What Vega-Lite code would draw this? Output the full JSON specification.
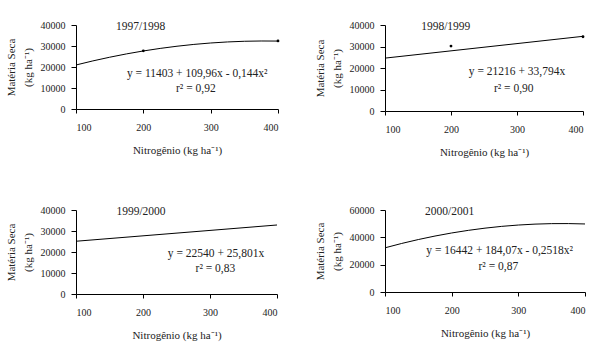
{
  "$schema": "https://vega.github.io/schema/vega-lite/v6.json",
  "padding": {"left": 5, "top": 20, "right": 5, "bottom": 5},
  "columns": 2,
  "align": "none",
  "bounds": "flush",
  "spacing": {"row": 99, "column": 107},
  "datasets": {
    "curves": [
      {"panel": "A", "x": 100, "y": 20959}, {"panel": "A", "x": 125, "y": 22898}, {"panel": "A", "x": 150, "y": 24657},
      {"panel": "A", "x": 175, "y": 26236}, {"panel": "A", "x": 200, "y": 27635}, {"panel": "A", "x": 225, "y": 28854},
      {"panel": "A", "x": 250, "y": 29893}, {"panel": "A", "x": 275, "y": 30752}, {"panel": "A", "x": 300, "y": 31431},
      {"panel": "A", "x": 325, "y": 31930}, {"panel": "A", "x": 350, "y": 32249}, {"panel": "A", "x": 375, "y": 32388},
      {"panel": "A", "x": 400, "y": 32347},
      {"panel": "B", "x": 100, "y": 24595}, {"panel": "B", "x": 400, "y": 34734},
      {"panel": "C", "x": 100, "y": 25120}, {"panel": "C", "x": 400, "y": 32860},
      {"panel": "D", "x": 100, "y": 32331}, {"panel": "D", "x": 125, "y": 35516}, {"panel": "D", "x": 150, "y": 38387},
      {"panel": "D", "x": 175, "y": 40943}, {"panel": "D", "x": 200, "y": 43184}, {"panel": "D", "x": 225, "y": 45110},
      {"panel": "D", "x": 250, "y": 46722}, {"panel": "D", "x": 275, "y": 48019}, {"panel": "D", "x": 300, "y": 49001},
      {"panel": "D", "x": 325, "y": 49668}, {"panel": "D", "x": 350, "y": 50021}, {"panel": "D", "x": 375, "y": 50059},
      {"panel": "D", "x": 400, "y": 49782}
    ],
    "points": [
      {"panel": "A", "x": 200, "y": 27700}, {"panel": "A", "x": 400, "y": 32400},
      {"panel": "B", "x": 200, "y": 30200}, {"panel": "B", "x": 400, "y": 34540}
    ]
  },
  "config": {
    "view": {"stroke": null},
    "font": "Times New Roman, Liberation Serif, serif",
    "axis": {
      "grid": false, "domainColor": "#000", "tickColor": "#000", "labelOverlap": false,
      "labelFont": "Times New Roman, Liberation Serif, serif", "labelFontSize": 10, "labelColor": "#222",
      "titleFont": "Times New Roman, Liberation Serif, serif", "titleFontSize": 11, "titleFontWeight": "normal", "titleColor": "#222"
    },
    "axisX": {"tickSize": 4, "labelPadding": 9, "titlePadding": 12},
    "axisY": {"tickSize": 5, "labelPadding": 6, "titlePadding": 7, "titleLineHeight": 17},
    "text": {"font": "Times New Roman, Liberation Serif, serif", "fontSize": 11.5, "color": "#222"}
  },
  "concat": [
    {
      "width": 202, "height": 84,
      "encoding": {
        "x": {"field": "x", "type": "quantitative", "scale": {"domain": [100, 400], "nice": false, "zero": false}, "axis": {"values": [100, 200, 300, 400], "title": "Nitrogênio (kg ha⁻¹)"}},
        "y": {"field": "y", "type": "quantitative", "scale": {"domain": [0, 40000], "nice": false}, "axis": {"values": [0, 10000, 20000, 30000, 40000], "tickCount": 5, "labelOverlap": false, "format": "d", "title": ["Matéria Seca", "(kg ha⁻¹)"]}}
      },
      "layer": [
        {
          "data": {"name": "curves"}, "transform": [{"filter": "datum.panel == 'A'"}],
          "mark": {"type": "line", "color": "#000", "strokeWidth": 1}
        },
        {
          "data": {"name": "points"}, "transform": [{"filter": "datum.panel == 'A'"}],
          "mark": {"type": "circle", "size": 8, "color": "#000", "opacity": 1}
        },
        {
          "data": {"values": [{"label": "1997/1998", "x": 196, "y": 38900}, {"label": "y = 11403 + 109,96x - 0,144x²", "x": 280, "y": 16900}, {"label": "r² = 0,92", "x": 278, "y": 9570}]},
          "mark": {"type": "text"},
          "encoding": {"text": {"field": "label"}}
        }
      ]
    },
    {
      "width": 198, "height": 86,
      "encoding": {
        "x": {"field": "x", "type": "quantitative", "scale": {"domain": [100, 400], "nice": false, "zero": false}, "axis": {"values": [100, 200, 300, 400], "title": "Nitrogênio (kg ha⁻¹)"}},
        "y": {"field": "y", "type": "quantitative", "scale": {"domain": [0, 40000], "nice": false}, "axis": {"values": [0, 10000, 20000, 30000, 40000], "tickCount": 5, "labelOverlap": false, "format": "d", "title": ["Matéria Seca", "(kg ha⁻¹)"]}}
      },
      "layer": [
        {
          "data": {"name": "curves"}, "transform": [{"filter": "datum.panel == 'B'"}],
          "mark": {"type": "line", "color": "#000", "strokeWidth": 1}
        },
        {
          "data": {"name": "points"}, "transform": [{"filter": "datum.panel == 'B'"}],
          "mark": {"type": "circle", "size": 8, "color": "#000", "opacity": 1}
        },
        {
          "data": {"values": [{"label": "1998/1999", "x": 192, "y": 38900}, {"label": "y = 21216 + 33,794x", "x": 300, "y": 18200}, {"label": "r² = 0,90", "x": 295, "y": 10450}]},
          "mark": {"type": "text"},
          "encoding": {"text": {"field": "label"}}
        }
      ]
    },
    {
      "width": 201, "height": 84,
      "encoding": {
        "x": {"field": "x", "type": "quantitative", "scale": {"domain": [100, 400], "nice": false, "zero": false}, "axis": {"values": [100, 200, 300, 400], "title": "Nitrogênio (kg ha⁻¹)"}},
        "y": {"field": "y", "type": "quantitative", "scale": {"domain": [0, 40000], "nice": false}, "axis": {"values": [0, 10000, 20000, 30000, 40000], "tickCount": 5, "labelOverlap": false, "format": "d", "title": ["Matéria Seca", "(kg ha⁻¹)"]}}
      },
      "layer": [
        {
          "data": {"name": "curves"}, "transform": [{"filter": "datum.panel == 'C'"}],
          "mark": {"type": "line", "color": "#000", "strokeWidth": 1}
        },
        {
          "data": {"values": [{"label": "1999/2000", "x": 197, "y": 39180}, {"label": "y = 22540 + 25,801x", "x": 309, "y": 19200}, {"label": "r² = 0,83", "x": 308, "y": 11800}]},
          "mark": {"type": "text"},
          "encoding": {"text": {"field": "label"}}
        }
      ]
    },
    {
      "width": 200, "height": 82,
      "encoding": {
        "x": {"field": "x", "type": "quantitative", "scale": {"domain": [100, 400], "nice": false, "zero": false}, "axis": {"values": [100, 200, 300, 400], "title": "Nitrogênio (kg ha⁻¹)"}},
        "y": {"field": "y", "type": "quantitative", "scale": {"domain": [0, 60000], "nice": false}, "axis": {"values": [0, 20000, 40000, 60000], "tickCount": 4, "labelOverlap": false, "format": "d", "title": ["Matéria Seca", "(kg ha⁻¹)"]}}
      },
      "layer": [
        {
          "data": {"name": "curves"}, "transform": [{"filter": "datum.panel == 'D'"}],
          "mark": {"type": "line", "color": "#000", "strokeWidth": 1}
        },
        {
          "data": {"values": [{"label": "2000/2001", "x": 197, "y": 58500}, {"label": "y = 16442 + 184,07x - 0,2518x²", "x": 272, "y": 29900}, {"label": "r² = 0,87", "x": 270, "y": 18650}]},
          "mark": {"type": "text"},
          "encoding": {"text": {"field": "label"}}
        }
      ]
    }
  ]
}
